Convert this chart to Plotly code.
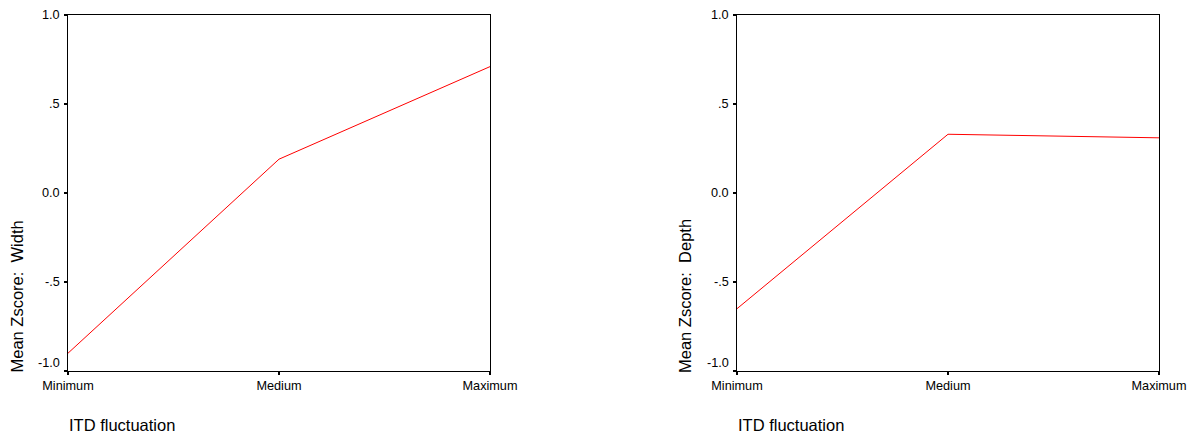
import plotly.graph_objects as go

categories = ["Minimum", "Medium", "Maximum"]
width_means = [-0.90, 0.19, 0.71]
depth_means = [-0.65, 0.33, 0.31]
y_tickvals = [-1.0, -0.5, 0.0, 0.5, 1.0]
y_ticktext = ["-1.0", "-.5", "0.0", ".5", "1.0"]
x_title = "ITD fluctuation"
y_titles = ["Mean Zscore:\u00a0 Width", "Mean Zscore:\u00a0 Depth"]

W, H = 1193, 433
fig = go.Figure()

font = dict(family="Liberation Sans, Arial, sans-serif", color="black")
TICK_SIZE = 12.7
TITLE_SIZE = 16.5

x_pos = list(range(len(categories)))
fig.add_trace(go.Scatter(x=x_pos, y=width_means, mode="lines",
                         line=dict(color="#ff0000", width=1), xaxis="x", yaxis="y",
                         showlegend=False, hoverinfo="skip"))
fig.add_trace(go.Scatter(x=x_pos, y=depth_means, mode="lines",
                         line=dict(color="#ff0000", width=1), xaxis="x2", yaxis="y2",
                         showlegend=False, hoverinfo="skip"))

left_dom = [68 / W, 490 / W]
right_dom = [737 / W, 1159 / W]
y_dom = [1 - 371 / H, 1 - 15 / H]

def xaxis(domain, anchor):
    return dict(domain=domain, anchor=anchor, range=[0, 2], tickvals=x_pos,
                ticktext=categories, showgrid=False, zeroline=False,
                showline=True, linecolor="black", linewidth=1, mirror=True,
                ticks="outside", ticklen=3, tickwidth=2, tickcolor="black",
                tickfont=dict(size=TICK_SIZE, **font), fixedrange=True,
                automargin=False, ticklabelstandoff=0)

def yaxis(anchor):
    return dict(domain=y_dom, anchor=anchor, range=[-1, 1], tickvals=y_tickvals,
                showticklabels=False, showgrid=False, zeroline=False,
                showline=True, linecolor="black", linewidth=1, mirror=True,
                ticks="outside", ticklen=3, tickwidth=2, tickcolor="black",
                fixedrange=True, automargin=False)

fig.update_layout(
    width=W, height=H,
    margin=dict(l=0, r=0, t=0, b=0, autoexpand=False),
    paper_bgcolor="white", plot_bgcolor="white",
    xaxis=xaxis(left_dom, "y"), yaxis=yaxis("x"),
    xaxis2=xaxis(right_dom, "y2"), yaxis2=yaxis("x2"),
    font=font,
)

annotations = []
for xref, yref, xt_left, yt, ttl in [("x", "y", 67, 16.5, y_titles[0]),
                                     ("x2", "y2", 736, 685, y_titles[1])]:
    annotations.append(dict(text=x_title, x=xt_left / W, y=1 - 425 / H, xref="paper", yref="paper",
                            xanchor="left", yanchor="middle", showarrow=False,
                            font=dict(size=TITLE_SIZE, **font)))
    annotations.append(dict(text=ttl, x=yt / W, y=1 - 375 / H, xref="paper", yref="paper",
                            xanchor="center", yanchor="bottom", textangle=-90, showarrow=False,
                            font=dict(size=TITLE_SIZE, **font)))
    for v, t in zip(y_tickvals, y_ticktext):
        annotations.append(dict(text=t, x=0, y=v, xref=xref + " domain", yref=yref,
                                xanchor="right", yanchor="middle", xshift=-6,
                                yshift=8 if v == -1.0 else 0, showarrow=False,
                                font=dict(size=TICK_SIZE, **font)))
fig.update_layout(annotations=annotations)

fig.write_html("out.html", config={"displayModeBar": False, "staticPlot": True},
               post_script="document.body.style.margin='0';document.body.style.overflow='hidden';")
